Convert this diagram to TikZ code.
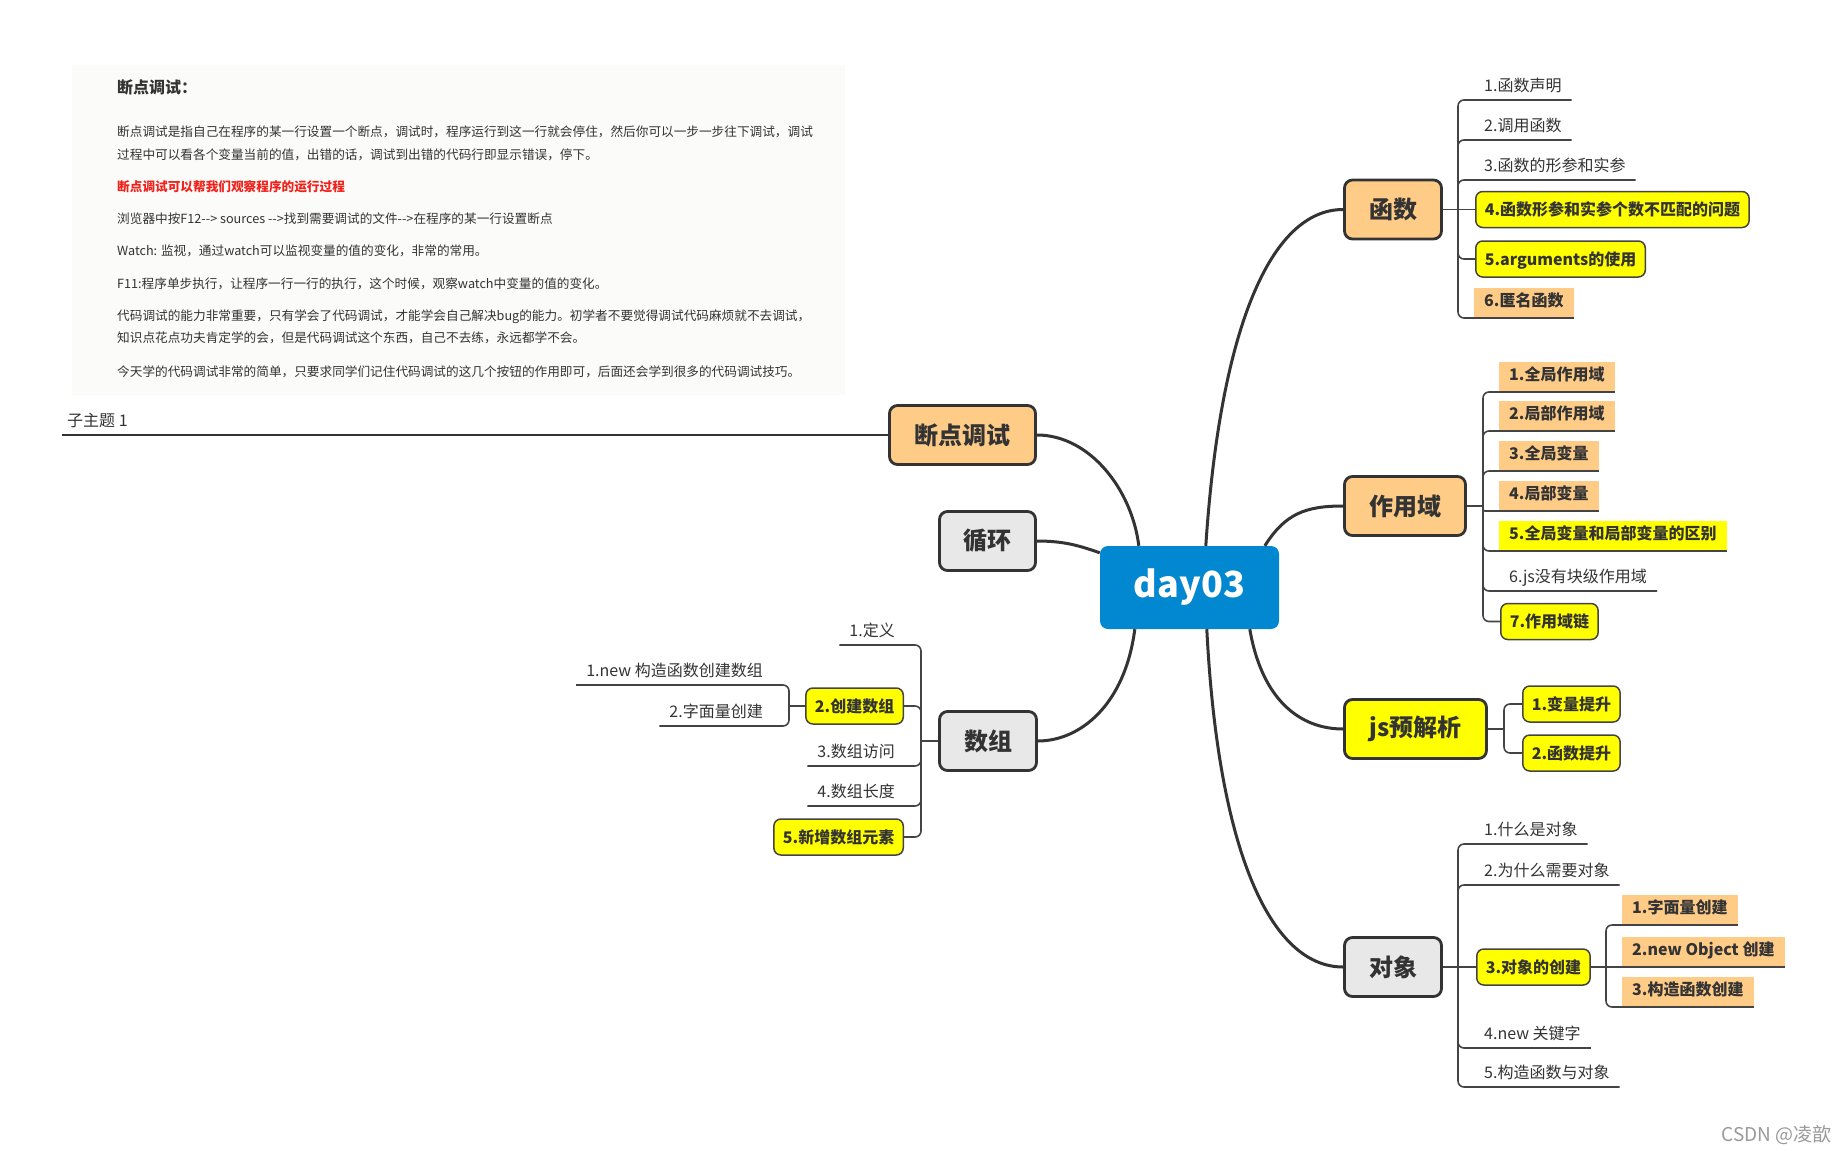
\documentclass[tikz,border=0pt]{standalone}
\usepackage{fontspec}
\setmainfont{Noto Sans CJK SC}
\usetikzlibrary{calc}
\definecolor{orng}{HTML}{FFCC88}
\definecolor{ylw}{HTML}{FFFF00}
\definecolor{gry}{HTML}{E8E8E8}
\definecolor{blu}{HTML}{0288D1}
\definecolor{ink}{HTML}{333333}
\definecolor{lineg}{HTML}{444444}
\definecolor{panel}{HTML}{FBFBFA}
\definecolor{notered}{HTML}{F2221B}
\definecolor{wmgray}{HTML}{9A9A9A}
\begin{document}
\begin{tikzpicture}[x=1pt,y=-1pt,
  topic/.style={draw=ink, line width=2.8pt, rounded corners=8pt, text=ink,
    font=\fontsize{24}{28}\selectfont\bfseries, minimum height=59pt, inner sep=0pt},
  curve/.style={draw=ink, line width=3pt},
  branch/.style={draw=lineg, line width=1.6pt, rounded corners=6pt},
  ulleaf/.style={anchor=south west, text=ink, font=\fontsize{16}{19}\selectfont,
    inner xsep=10pt, inner ysep=5pt, text height=11.5pt, text depth=3.5pt},
  rectleaf/.style={ulleaf, font=\fontsize{16}{19}\selectfont\bfseries, fill=orng, minimum height=30pt},
  boxleaf/.style={draw=lineg, line width=1.5pt, rounded corners=7pt, fill=ylw, text=ink,
    font=\fontsize{16}{19}\selectfont\bfseries, minimum height=36pt, inner xsep=9pt, inner ysep=0pt,
    text height=13pt, text depth=1pt, anchor=west},
  note/.style={anchor=west, inner sep=0pt, text=ink, font=\fontsize{12.65}{15}\selectfont,
    text height=11pt, text depth=1.6pt},
]
\useasboundingbox (0,0) rectangle (1847,1151);
\fill[white] (0,0) rectangle (1847,1151);

% note panel
\fill[panel] (72,65) rectangle (845,395);
\node[note, font=\fontsize{16}{19}\selectfont\bfseries, text height=14pt, text depth=2pt] (nt) at (117,87) {断点调试：};
\node[note] (n1) at (117,132) {断点调试是指自己在程序的某一行设置一个断点，调试时，程序运行到这一行就会停住，然后你可以一步一步往下调试，调试};
\node[note] (n2) at (117,155) {过程中可以看各个变量当前的值，出错的话，调试到出错的代码行即显示错误，停下。};
\node[note, text=notered, font=\fontsize{12.65}{15}\selectfont\bfseries] (n3) at (117,187) {断点调试可以帮我们观察程序的运行过程};
\node[note] (n4) at (117,219) {浏览器中按F12-{}-> sources -{}->找到需要调试的文件-{}->在程序的某一行设置断点};
\node[note] (n5) at (117,251) {Watch: 监视，通过watch可以监视变量的值的变化，非常的常用。};
\node[note] (n6) at (117,284) {F11:程序单步执行，让程序一行一行的执行，这个时候，观察watch中变量的值的变化。};
\node[note] (n7) at (117,316) {代码调试的能力非常重要，只有学会了代码调试，才能学会自己解决bug的能力。初学者不要觉得调试代码麻烦就不去调试，};
\node[note] (n8) at (117,338) {知识点花点功夫肯定学的会，但是代码调试这个东西，自己不去练，永远都学不会。};
\node[note] (n9) at (117,372) {今天学的代码调试非常的简单，只要求同学们记住代码调试的这几个按钮的作用即可，后面还会学到很多的代码调试技巧。};

% central topic
\node[fill=blu, rounded corners=8pt, minimum width=179pt, minimum height=83pt, inner sep=0pt,
  text=white, font=\fontsize{36}{40}\selectfont\bfseries] (root) at (1189.5,587.5) {day03};

% main topics
\node[topic, fill=orng, minimum width=146pt] (dd) at (962.5,435) {断点调试};
\node[topic, fill=gry, minimum width=96pt] (xh) at (987.5,541) {循环};
\node[topic, fill=orng, minimum width=97pt] (hs) at (1393,209.5) {函数};
\node[topic, fill=orng, minimum width=121pt] (zyy) at (1405,506) {作用域};
\node[topic, fill=ylw, minimum width=142pt] (js) at (1415.5,729) {js预解析};
\node[topic, fill=gry, minimum width=97pt] (dx) at (1393,967) {对象};
\node[topic, fill=gry, minimum width=97pt] (sz) at (988,741) {数组};

% main curves
\draw[curve] ($(root.north west)+(39,0)$) .. controls (1132,490) and (1090,435) .. (dd.east);
\draw[curve] ($(root.north west)+(0,7)$) .. controls (1080,546) and (1065,541) .. (xh.east);
\draw[curve] ($(root.north west)+(106,0)$) .. controls (1220,330) and (1270,209.5) .. (hs.west);
\draw[curve] ($(root.north west)+(165,0)$) .. controls (1285,514) and (1305,506) .. (zyy.west);
\draw[curve] ($(root.south west)+(150,0)$) .. controls (1262,700) and (1300,729) .. (js.west);
\draw[curve] ($(root.south west)+(107,0)$) .. controls (1218,850) and (1270,967) .. (dx.west);
\draw[curve] ($(root.south west)+(35,0)$) .. controls (1125,705) and (1080,741) .. (sz.east);

% 断点调试 -> 子主题 1
\node[ulleaf, inner xsep=5pt] (zt) at (62,435) {子主题 1};
\draw[draw=ink, line width=1.6pt] (dd.west) -- (zt.south west);

% 函数
\coordinate (hsJ) at (1458,209.5);
\node[ulleaf] (h1) at (1474,100) {1.函数声明};
\node[ulleaf] (h2) at (1474,140) {2.调用函数};
\node[ulleaf] (h3) at (1474,180) {3.函数的形参和实参};
\node[boxleaf] (h4) at (1475,209.5) {4.函数形参和实参个数不匹配的问题};
\node[boxleaf] (h5) at (1475,259) {5.arguments的使用};
\node[rectleaf] (h6) at (1474,318) {6.匿名函数};
\draw[branch] (hs.east) -- (hsJ);
\draw[branch] (hsJ) |- (h1.south east);
\draw[branch] (hsJ) |- (h2.south east);
\draw[branch] (hsJ) |- (h3.south east);
\draw[branch] (hsJ) -- (h4.west);
\draw[branch] (hsJ) |- (h5.west);
\draw[branch] (hsJ) |- (h6.south east);

% 作用域
\coordinate (zyJ) at (1483,506);
\node[rectleaf] (z1) at (1499,392) {1.全局作用域};
\node[rectleaf] (z2) at (1499,431) {2.局部作用域};
\node[rectleaf] (z3) at (1499,471) {3.全局变量};
\node[rectleaf] (z4) at (1499,511) {4.局部变量};
\node[rectleaf, fill=ylw] (z5) at (1499,551) {5.全局变量和局部变量的区别};
\node[ulleaf] (z6) at (1499,591) {6.js没有块级作用域};
\node[boxleaf] (z7) at (1500,621.5) {7.作用域链};
\draw[branch] (zyy.east) -- (zyJ);
\draw[branch] (zyJ) |- (z1.south east);
\draw[branch] (zyJ) |- (z2.south east);
\draw[branch] (zyJ) |- (z3.south east);
\draw[branch, rounded corners=2pt] (zyJ) |- (z4.south east);
\draw[branch] (zyJ) |- (z5.south east);
\draw[branch] (zyJ) |- (z6.south east);
\draw[branch] (zyJ) |- (z7.west);

% js预解析
\coordinate (jsJ) at (1504,729);
\node[boxleaf] (j1) at (1522,704) {1.变量提升};
\node[boxleaf] (j2) at (1522,753) {2.函数提升};
\draw[branch] (js.east) -- (jsJ);
\draw[branch] (jsJ) |- (j1.west);
\draw[branch] (jsJ) |- (j2.west);

% 对象
\coordinate (dxJ) at (1458,967);
\node[ulleaf] (d1) at (1474,844) {1.什么是对象};
\node[ulleaf] (d2) at (1474,885) {2.为什么需要对象};
\node[boxleaf] (d3) at (1476,967) {3.对象的创建};
\node[ulleaf] (d4) at (1474,1048) {4.new 关键字};
\node[ulleaf] (d5) at (1474,1087) {5.构造函数与对象};
\draw[branch] (dx.east) -- (dxJ);
\draw[branch] (dxJ) |- (d1.south east);
\draw[branch] (dxJ) |- (d2.south east);
\draw[branch] (dxJ) -- (d3.west);
\draw[branch] (dxJ) |- (d4.south east);
\draw[branch] (dxJ) |- (d5.south east);
\coordinate (d3J) at (1606,967);
\node[rectleaf] (d31) at (1622,925) {1.字面量创建};
\node[rectleaf] (d32) at (1622,967) {2.new Object 创建};
\node[rectleaf] (d33) at (1622,1007) {3.构造函数创建};
\draw[branch] (d3.east) -- (d3J);
\draw[branch] (d3J) |- (d31.south east);
\draw[branch] (d3J) -- (d32.south east);
\draw[branch] (d3J) |- (d33.south east);

% 数组 (left)
\coordinate (szJ) at (921,741);
\node[ulleaf, anchor=south east] (s1) at (905,645) {1.定义};
\node[boxleaf, anchor=east] (s2) at (904,706) {2.创建数组};
\node[ulleaf, anchor=south east] (s3) at (905,766) {3.数组访问};
\node[ulleaf, anchor=south east] (s4) at (905,806) {4.数组长度};
\node[boxleaf, anchor=east] (s5) at (904,837) {5.新增数组元素};
\draw[branch] (sz.west) -- (szJ);
\draw[branch] (szJ) |- (s1.south west);
\draw[branch] (szJ) |- (s2.east);
\draw[branch] (szJ) |- (s3.south west);
\draw[branch] (szJ) |- (s4.south west);
\draw[branch] (szJ) |- (s5.east);
\coordinate (s2J) at (789,706);
\node[ulleaf, anchor=south east] (s21) at (773,685) {1.new 构造函数创建数组};
\node[ulleaf, anchor=south east] (s22) at (773,726) {2.字面量创建};
\draw[branch] (s2.west) -- (s2J);
\draw[branch] (s2J) |- (s21.south west);
\draw[branch] (s2J) |- (s22.south west);

% watermark
\node[anchor=east, inner sep=0pt, text=wmgray, font=\fontsize{19}{21}\selectfont] (wm) at (1832,1135) {CSDN @凌歆};
\end{tikzpicture}
\end{document}
